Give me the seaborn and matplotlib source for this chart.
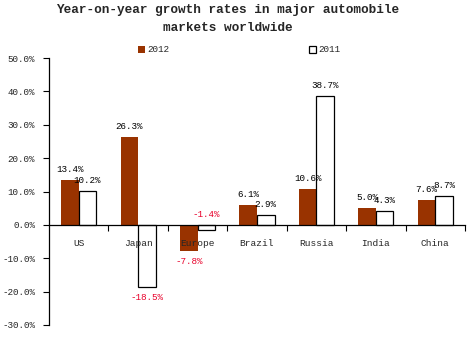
import matplotlib
matplotlib.use("Agg")
import matplotlib.pyplot as plt
import seaborn as sns
import pandas as pd
from matplotlib.ticker import FixedLocator, FuncFormatter
from matplotlib.patches import Patch

markets = ["US", "Japan", "Europe", "Brazil", "Russia", "India", "China"]
years = ["2012", "2011"]
vals_2012 = [13.4, 26.3, -7.8, 6.1, 10.6, 5.0, 7.6]
vals_2011 = [10.2, -18.5, -1.4, 2.9, 38.7, 4.3, 8.7]
yticks = [50, 40, 30, 20, 10, 0, -10, -20, -30]
title = "Year-on-year growth rates in major automobile\nmarkets worldwide"

df = pd.DataFrame({
    "market": markets * 2,
    "year": [years[0]] * len(markets) + [years[1]] * len(markets),
    "value": vals_2012 + vals_2011,
})

sns.set_theme(style="white")
plt.rcParams["font.family"] = ["Liberation Mono", "DejaVu Sans Mono"]

fig = plt.figure(figsize=(4.73, 3.40), dpi=100)
ax = fig.add_axes([49 / 473, 1 - 325 / 340, (465 - 49) / 473, (325 - 58) / 340])

brown = "#993300"
red = "#E8002A"
sns.barplot(data=df, x="market", y="value", hue="year", order=markets,
            hue_order=years, palette=[brown, "white"], width=0.59,
            saturation=1, ax=ax, legend=False)

n = len(markets)
patches = ax.patches[:2 * n]
for i, p in enumerate(patches):
    if i >= n:
        p.set_edgecolor("black")
        p.set_linewidth(0.9)
    else:
        p.set_edgecolor(brown)
        p.set_linewidth(0)

# value labels
for i, p in enumerate(patches):
    v = vals_2012[i] if i < n else vals_2011[i - n]
    cx = p.get_x() + p.get_width() / 2
    if v >= 0:
        ax.text(cx, v + 1.8, f"{v:.1f}%", ha="center", va="bottom",
                fontsize=6.7, color="black", zorder=5)
    elif v > -5:
        ax.text(cx, 1.8, f"{v:.1f}%", ha="center", va="bottom",
                fontsize=6.7, color=red, zorder=5)
    else:
        ax.text(cx, v - 1.8, f"{v:.1f}%", ha="center", va="top",
                fontsize=6.7, color=red, zorder=5)

ax.set_axisbelow(False)
ax.set_ylim(-30, 50)
ax.set_xlim(-0.5, n - 0.5)
ax.set_yticks(yticks)
ax.yaxis.set_major_formatter(FuncFormatter(lambda v, _: f"{v:.1f}%"))
ax.tick_params(axis="y", which="major", direction="out", length=4, width=0.8,
               labelsize=6.7, pad=6, left=True, color="black")

# x axis at zero, ticks at category boundaries, labels at centres
ax.spines["bottom"].set_position(("data", 0))
ax.spines["top"].set_visible(False)
ax.spines["right"].set_visible(False)
ax.spines["left"].set_color("black")
ax.spines["bottom"].set_color("black")
ax.spines["left"].set_linewidth(0.9)
ax.spines["bottom"].set_linewidth(0.9)
ax.xaxis.set_major_locator(FixedLocator([i + 0.5 for i in range(n)]))
ax.xaxis.set_major_formatter(FuncFormatter(lambda v, _: ""))
ax.set_xticks(list(range(n)), markets, minor=True)
ax.tick_params(axis="x", which="major", direction="out", length=4, width=0.8,
               bottom=True, color="black")
ax.tick_params(axis="x", which="minor", length=0, labelsize=6.8, pad=10)
ax.set_xlabel("")
ax.set_ylabel("")
ax.grid(False)

handles = [Patch(facecolor=brown, edgecolor=brown, linewidth=0),
           Patch(facecolor="white", edgecolor="black", linewidth=0.9)]
fig.legend(handles, years, loc="center", bbox_to_anchor=(239 / 473, 1 - 50 / 340),
           ncol=2, frameon=False, fontsize=6.7, columnspacing=15,
           handlelength=0.8, handleheight=0.8, handletextpad=0.2)

fig.text(228 / 473, 1 - 19 / 340, title, ha="center", va="center",
         fontsize=9.2, fontweight="bold", linespacing=1.6,
         family=["Liberation Mono", "DejaVu Sans Mono"])

fig.savefig("out.png", dpi=100)
